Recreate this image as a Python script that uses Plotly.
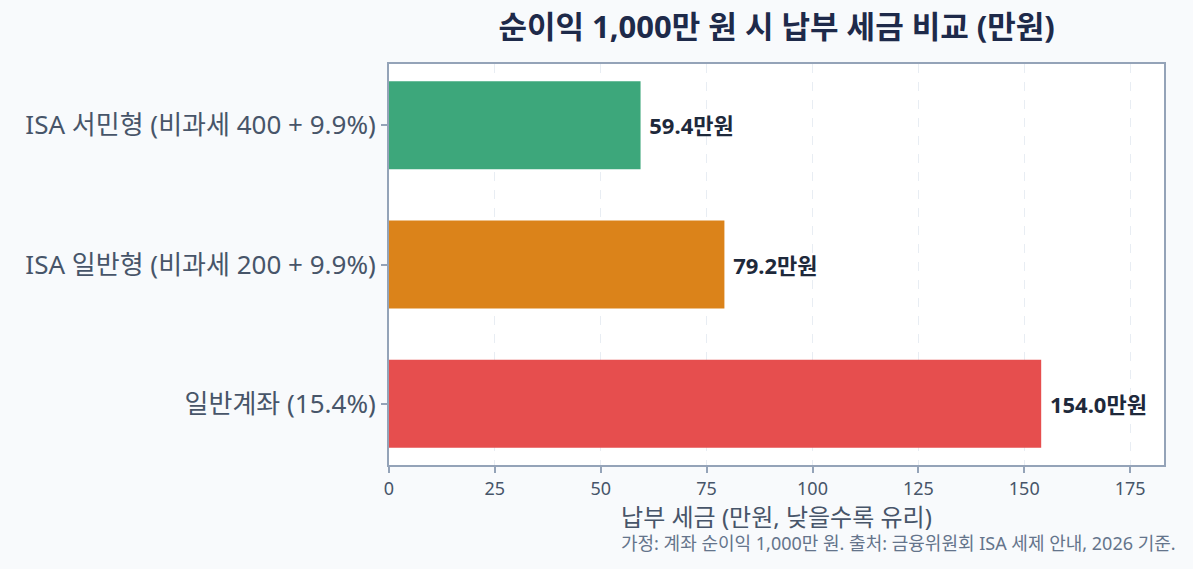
import plotly.graph_objects as go

categories = ["일반계좌 (15.4%)", "ISA 일반형 (비과세 200 + 9.9%)", "ISA 서민형 (비과세 400 + 9.9%)"]
tax_values = [154.0, 79.2, 59.4]
bar_colors = ["#e64e4e", "#db831a", "#3da77b"]
x_ticks = [0, 25, 50, 75, 100, 125, 150, 175]

FONT = "Noto Sans, Noto Sans CJK KR"

fig = go.Figure(go.Bar(
    x=tax_values,
    y=categories,
    orientation="h",
    marker=dict(color=bar_colors, line=dict(width=0)),
    width=0.633,
    texttemplate=" %{x:.1f}만원",
    textposition="outside",
    textfont=dict(family=FONT, size=22, color="#1e293b", weight="bold"),
    cliponaxis=False,
    hoverinfo="skip",
))

fig.update_layout(
    width=1193, height=569,
    paper_bgcolor="#f8fafc",
    plot_bgcolor="#ffffff",
    margin=dict(l=389, r=29, t=64, b=104),
    font=dict(family=FONT, color="#475569"),
    title=dict(text="<b>순이익 1,000만 원 시 납부 세금 비교 (만원)</b>",
               x=0.651, xanchor="center", y=0.952, yanchor="middle",
               font=dict(family=FONT, size=31, color="#1e2a4a")),
    showlegend=False,
)

fig.update_xaxes(
    range=[0, 183], tickvals=x_ticks,
    tickfont=dict(size=18, color="#475569"),
    showgrid=True, gridcolor="#e8edf3", griddash="dash", gridwidth=1,
    zeroline=False,
    showline=True, linecolor="#94a3b8", linewidth=2, mirror=True,
    ticks="outside", ticklen=6, tickcolor="#94a3b8", tickwidth=1.5,
    title=dict(text="납부 세금 (만원, 낮을수록 유리)", font=dict(size=24, color="#475569"), standoff=9),
)
fig.update_yaxes(
    range=[-0.44, 2.44],
    tickfont=dict(size=26, color="#475569"),
    showgrid=False, zeroline=False,
    showline=True, linecolor="#94a3b8", linewidth=2, mirror=True,
    ticks="outside", ticklen=6, tickcolor="#94a3b8", tickwidth=1.5,
)

fig.add_annotation(
    text="가정: 계좌 순이익 1,000만 원. 출처: 금융위원회 ISA 세제 안내, 2026 기준.",
    xref="paper", yref="paper", x=1.018, y=-0.195, xanchor="right", yanchor="middle",
    showarrow=False, font=dict(family=FONT, size=18, color="#64748b"),
)

fig.write_html("out.html")
